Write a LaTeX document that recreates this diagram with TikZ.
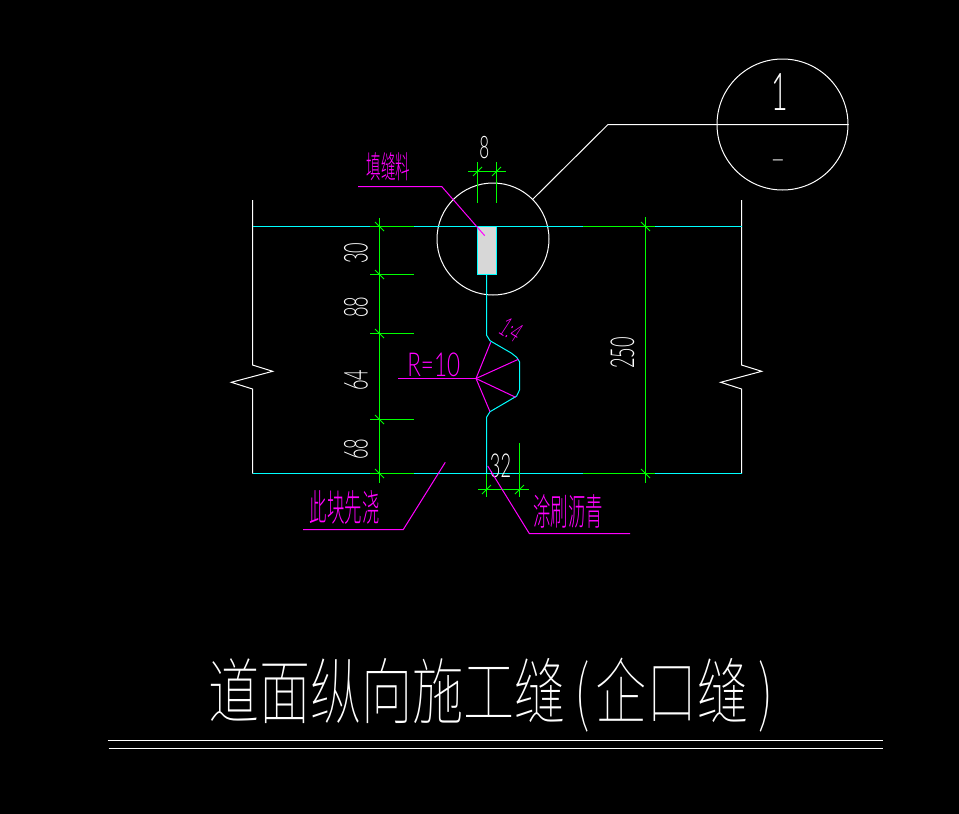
\documentclass[tikz,border=0pt]{standalone}
\usepackage{fontspec}
\usepackage{xcolor}
\definecolor{cadcyan}{RGB}{0, 255, 255}
\definecolor{cadgreen}{RGB}{0, 255, 0}
\definecolor{cadmagenta}{RGB}{255, 0, 255}
\definecolor{sealgray}{RGB}{215, 215, 215}
\newfontfamily\cjknarrow[FakeStretch=0.47]{Noto Sans CJK SC Light}
\newfontfamily\cjktitle[FakeStretch=0.71]{Noto Sans CJK SC Thin}
\newfontfamily\cadnum[FakeStretch=0.55]{Lato Light}
\newfontfamily\cadwide[FakeStretch=0.68]{Lato Light}
\tikzset{
  dimline/.style={cadgreen,line width=1pt},
  tick/.style={cadgreen,line width=0.8pt},
  outline/.style={white,line width=1pt},
  edgeline/.style={cadcyan,line width=1pt},
  leader/.style={cadmagenta,line width=1pt},
  dimtext/.style={white,inner sep=0pt,font=\cadnum\fontsize{33}{33}\selectfont},
  notetext/.style={cadmagenta,inner sep=0pt,font=\cjknarrow\fontsize{37}{37}\selectfont}
}
\newcommand{\backslashtick}[2]{\draw[tick] (#1-4.5,#2-4.5) -- (#1+4.5,#2+4.5);}
\newcommand{\slashtick}[2]{\draw[tick] (#1-4.5,#2+4.5) -- (#1+4.5,#2-4.5);}
\begin{document}
\begin{tikzpicture}[x=1pt,y=-1pt]
            \fill[black] (0,0) rectangle (959,814);
            \useasboundingbox (0,0) rectangle (959,814);

            % balloon and detail circle
            \node[draw=white,line width=1pt,circle,minimum size=131pt,inner sep=0pt] (balloon) at (782.5,124.5) {};
            \node[draw=white,line width=1pt,circle,minimum size=112pt,inner sep=0pt] (detail) at (493,239) {};
            \coordinate (elbow) at (608,124.5);
            \draw[outline] (detail.45) -- (elbow) -- (balloon.east);
            \node[dimtext,font=\cadnum\fontsize{52}{52}\selectfont] (sheetnum) at (780,92) {1};
            \node[dimtext,font=\cadnum\fontsize{28}{28}\selectfont] (sheetdash) at (778,164) {—};

            % slab
            \draw[outline] (252.5,200) -- (252.5,365) -- (272.7,371.3) -- (231.3,382.3) -- (252.5,389) -- (252.5,473.5);
            \draw[outline] (741.5,200) -- (741.5,365) -- (761.7,371.3) -- (720.7,382.3) -- (741.5,389) -- (741.5,473.5);
            \draw[edgeline] (252.5,226.5) -- (741.5,226.5);
            \draw[edgeline] (252.5,473.5) -- (741.5,473.5);
            \draw[edgeline,fill=sealgray] (477.5,226.5) rectangle (496.5,274.5);
            \draw[edgeline] (486.5,274.5) -- (486.5,335) -- (490,340.7) -- (511.7,353.3) -- (516.7,357.3) -- (519.5,361.7) -- (519.5,390) -- (516.7,396) -- (510,400) -- (490,411.7) -- (486.5,417.3) -- (486.5,473.5);

            % rays and radius
            \coordinate (apex) at (476,378.5);
            \draw[leader] (398,378.5) -- (apex);
            \draw[leader] (apex) -- (490.7,342.3);
            \draw[leader] (apex) -- (518.3,359.3);
            \draw[leader] (apex) -- (515.7,397.3);
            \draw[leader] (apex) -- (490,411.7);
            \node[notetext,font=\cadwide\fontsize{33}{33}\selectfont] (radius) at (433.7,364.7) {R=10};
            \node[notetext,rotate=-33,font=\cadnum\fontsize{27}{27}\selectfont] (slope) at (511,330) {1:4};

            % left dimensions
            \draw[dimline] (379.5,218) -- (379.5,482.7);
            \foreach \ty in {226.5,274.5,333.5,419.5,473.5} {
              \draw[dimline] (370,\ty) -- (414,\ty);
              \backslashtick{379.5}{\ty}
            }
            \node[dimtext,rotate=90] (dimthirty) at (356,253) {30};
            \node[dimtext,rotate=90] (dimeighty) at (356,307) {88};
            \node[dimtext,rotate=90] (dimsixtyfour) at (356,380) {64};
            \node[dimtext,rotate=90] (dimsixtyeight) at (356,449) {68};

            % right dimension
            \draw[dimline] (645.5,217) -- (645.5,482.7);
            \draw[dimline] (583,226.5) -- (655,226.5);
            \draw[dimline] (583,473.5) -- (655,473.5);
            \backslashtick{645.5}{226.5}
            \backslashtick{645.5}{473.5}
            \node[dimtext,rotate=90] (dimtotal) at (622.5,353) {250};

            % top dimension
            \draw[dimline] (477.5,162) -- (477.5,203);
            \draw[dimline] (496.5,162) -- (496.5,203);
            \draw[dimline] (468,171.5) -- (505.7,171.5);
            \slashtick{477.5}{171.5}
            \slashtick{496.5}{171.5}
            \node[dimtext,font=\cadnum\fontsize{31}{31}\selectfont] (dimgap) at (484.3,147.3) {8};

            % bottom dimension
            \draw[dimline] (486.5,473.5) -- (486.5,497.3);
            \draw[dimline] (519.5,443.3) -- (519.5,497.3);
            \draw[dimline] (478,489.5) -- (528.7,489.5);
            \slashtick{486.5}{489.5}
            \slashtick{519.5}{489.5}
            \node[dimtext] (dimwidth) at (500.5,466) {32};

            % notes
            \draw[leader] (358,186.5) -- (441.7,186.5) -- (484.7,235.7);
            \node[notetext,font=\cjknarrow\fontsize{31}{31}\selectfont] (filler) at (388.3,167) {填缝料};
            \draw[leader] (303,529.5) -- (403.3,529.5) -- (445.3,462.3);
            \node[notetext] (firstpour) at (344.7,507) {此块先浇};
            \draw[leader] (487.7,466) -- (529.3,533.5) -- (630,533.5);
            \node[notetext] (asphalt) at (568,511) {涂刷沥青};

            % title
            \node[white,inner sep=0pt,anchor=base west,font=\cjktitle\fontsize{72}{72}\selectfont] (title) at (208,718) {道面纵向施工缝\hspace{9pt}(\hspace{5pt}企口缝\hspace{10pt})};
            \draw[outline] (107.5,740.5) -- (883,740.5);
            \draw[outline] (108.5,748.5) -- (883,748.5);
        \end{tikzpicture}
\end{document}
